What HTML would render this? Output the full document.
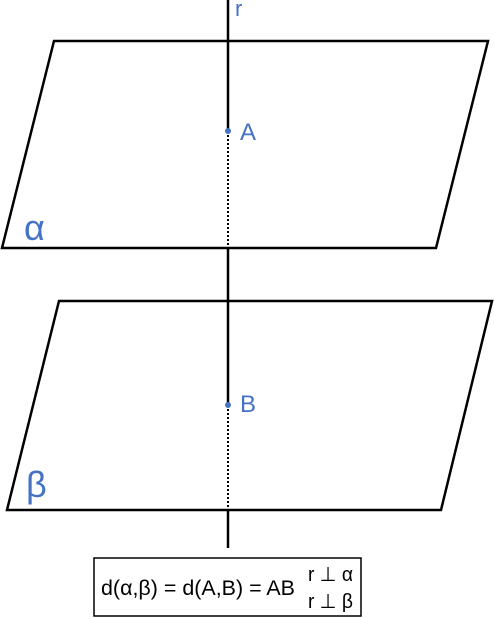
<!DOCTYPE html>
<html><head><meta charset="utf-8"><style>
html,body{margin:0;padding:0;background:#fff;width:494px;height:618px;overflow:hidden}
svg text{font-family:"Liberation Sans","DejaVu Sans",sans-serif}
</style></head><body>
<svg width="494" height="618" viewBox="0 0 494 618">
<polygon points="54,41 488,41 436,248 2,248" fill="none" stroke="#000" stroke-width="2.5"/>
<polygon points="59,301 492,301 441,510 7,510" fill="none" stroke="#000" stroke-width="2.5"/>
<g stroke="#000" stroke-width="2.5">
<line x1="228" y1="0" x2="228" y2="131"/>
<line x1="228" y1="131" x2="228" y2="248" stroke-dasharray="2,2" stroke-width="2"/>
<line x1="228" y1="248" x2="228" y2="405"/>
<line x1="228" y1="405" x2="228" y2="510" stroke-dasharray="2,2" stroke-width="2"/>
<line x1="228" y1="510" x2="228" y2="548"/>
</g>
<circle cx="228" cy="131" r="3" fill="#4472C4"/>
<circle cx="228" cy="405" r="3" fill="#4472C4"/>
<text x="235" y="16" font-size="22" fill="#4472C4">r</text>
<text x="240" y="140" font-size="24" fill="#4472C4">A</text>
<text x="240" y="412" font-size="24" fill="#4472C4">B</text>
<text x="24" y="240" font-size="36" fill="#4472C4">α</text>
<text x="26" y="497" font-size="36" fill="#4472C4">β</text>
<rect x="94" y="558" width="267" height="58" fill="#fff" stroke="#000" stroke-width="1.5"/>
<text x="101" y="595" font-size="21" textLength="194" lengthAdjust="spacingAndGlyphs" fill="#000">d(α,β) = d(A,B) = AB</text>
<text x="308" y="581" font-size="20" textLength="45" lengthAdjust="spacingAndGlyphs" fill="#000">r ⊥ α</text>
<text x="308" y="608" font-size="20" textLength="45" lengthAdjust="spacingAndGlyphs" fill="#000">r ⊥ β</text>
</svg>
</body></html>
